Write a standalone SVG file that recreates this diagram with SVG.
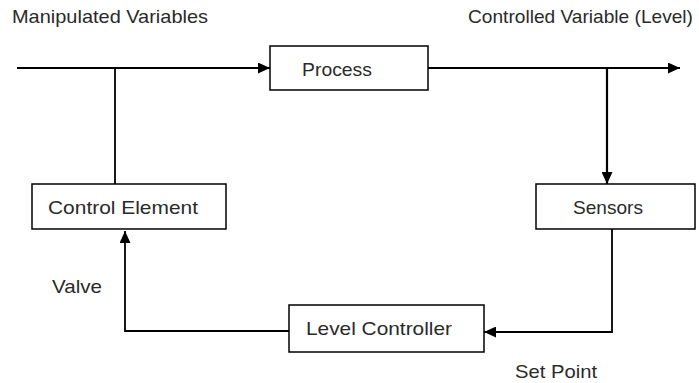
<svg xmlns="http://www.w3.org/2000/svg" width="699" height="383" viewBox="0 0 699 383">
<defs>
<style>
.box{fill:#fff;stroke:#000;stroke-width:1.5}
.ln{fill:none;stroke:#000;stroke-width:1.8}
.t{font-family:"Liberation Sans",Arial,sans-serif;font-size:19px;fill:#2a2a2a}
</style>
<marker id="ah" viewBox="0 0 12 11" refX="12" refY="5.5" markerWidth="12" markerHeight="11" markerUnits="userSpaceOnUse" orient="auto">
<path d="M0,0 L12,5.5 L0,11 Z" fill="#000"/>
</marker>
</defs>
<rect width="699" height="383" fill="#fff"/>
<g id="connectors">
<path class="ln" d="M17,68 H270" marker-end="url(#ah)"/>
<path class="ln" d="M115,68 V184"/>
<path class="ln" d="M428,68 H680" marker-end="url(#ah)"/>
<path class="ln" d="M607,68 V184" marker-end="url(#ah)" style="stroke-width:2.2"/>
<path class="ln" d="M612,229 V332 H484" marker-end="url(#ah)"/>
<path class="ln" d="M289,331 H125 V231" marker-end="url(#ah)"/>
</g>
<g id="process">
<rect class="box" x="270" y="46" width="158" height="44"/>
<text class="t" x="302" y="76" textLength="70" lengthAdjust="spacingAndGlyphs">Process</text>
</g>
<g id="control-element">
<rect class="box" x="32" y="184" width="194" height="45"/>
<text class="t" x="48" y="214" textLength="150" lengthAdjust="spacingAndGlyphs">Control Element</text>
</g>
<g id="sensors">
<rect class="box" x="536" y="184" width="159" height="45"/>
<text class="t" x="573" y="214" textLength="70" lengthAdjust="spacingAndGlyphs">Sensors</text>
</g>
<g id="level-controller">
<rect class="box" x="289" y="305" width="195" height="47"/>
<text class="t" x="306" y="335" textLength="146" lengthAdjust="spacingAndGlyphs">Level Controller</text>
</g>
<g id="labels">
<text class="t" x="12" y="23" textLength="196" lengthAdjust="spacingAndGlyphs">Manipulated Variables</text>
<text class="t" x="468" y="23" textLength="225" lengthAdjust="spacingAndGlyphs">Controlled Variable (Level)</text>
<text class="t" x="52" y="293" textLength="50" lengthAdjust="spacingAndGlyphs">Valve</text>
<text class="t" x="515" y="378" textLength="82" lengthAdjust="spacingAndGlyphs">Set Point</text>
</g>
</svg>
